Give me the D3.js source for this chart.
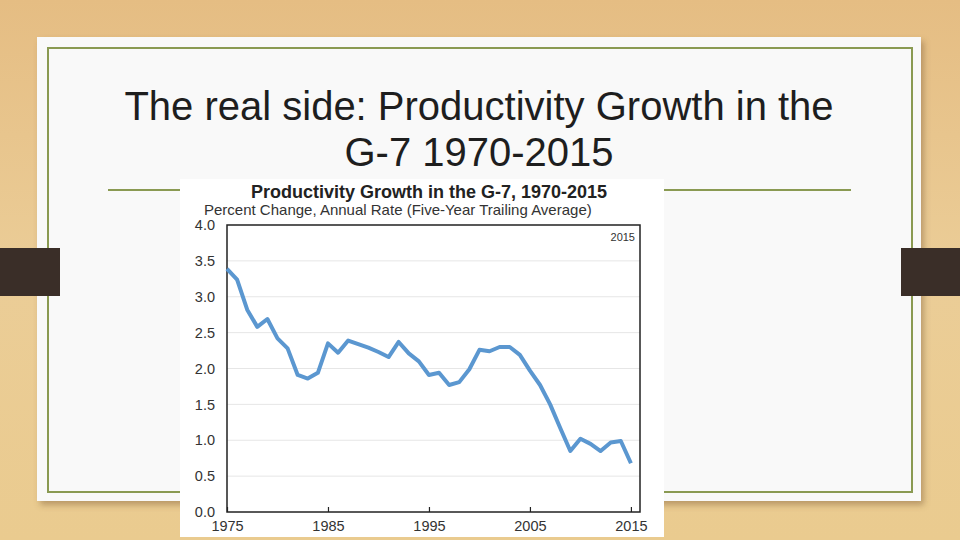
<!DOCTYPE html>
<html>
<head>
<meta charset="utf-8">
<script src="https://cdn.jsdelivr.net/npm/d3@7"></script>
<style>
  html, body { margin: 0; padding: 0; background: #e8c68e; }
  svg { display: block; }
</style>
</head>
<body>
<svg id="chart" width="960" height="540"></svg>
<script>
// ---- data ----
const years = d3.range(1975, 2016);
const productivity = [
  3.39, 3.24, 2.82, 2.58, 2.69, 2.42, 2.28, 1.91, 1.86, 1.94,
  2.35, 2.22, 2.39, 2.34, 2.29, 2.23, 2.16, 2.37, 2.21, 2.10,
  1.91, 1.94, 1.77, 1.81, 1.99, 2.26, 2.24, 2.30, 2.30, 2.19,
  1.97, 1.77, 1.50, 1.17, 0.85, 1.02, 0.95, 0.85, 0.97, 0.99,
  0.68
];
const yTicks = [0, 0.5, 1.0, 1.5, 2.0, 2.5, 3.0, 3.5, 4.0];
const xTickYears = [1975, 1985, 1995, 2005, 2015];
const slideTitle = ["The real side: Productivity Growth in the", "G-7 1970-2015"];
const chartTitle = "Productivity Growth in the G-7, 1970-2015";
const chartSubtitle = "Percent Change, Annual Rate (Five-Year Trailing Average)";
const cornerLabel = "2015";

const svg = d3.select("#chart");
const defs = svg.append("defs");

// wood background
const wood = defs.append("linearGradient").attr("id", "wood").attr("x1", 0).attr("y1", 0).attr("x2", 0).attr("y2", 1);
wood.append("stop").attr("offset", "0%").attr("stop-color", "#e5bd83");
wood.append("stop").attr("offset", "50%").attr("stop-color", "#ebcd97");
wood.append("stop").attr("offset", "100%").attr("stop-color", "#eacb8f");
svg.append("rect").attr("width", 960).attr("height", 540).attr("fill", "url(#wood)");

// shadow filter
const f = defs.append("filter").attr("id", "shadow").attr("x", "-5%").attr("y", "-5%").attr("width", "115%").attr("height", "120%");
f.append("feDropShadow").attr("dx", 3).attr("dy", 4).attr("stdDeviation", 3).attr("flood-color", "#7a5a30").attr("flood-opacity", 0.45);

// card
svg.append("rect").attr("x", 37).attr("y", 37).attr("width", 884).attr("height", 464)
  .attr("fill", "#f9f9f9").attr("filter", "url(#shadow)");
svg.append("rect").attr("x", 48).attr("y", 48).attr("width", 864).attr("height", 444)
  .attr("fill", "none").attr("stroke", "#8a9a52").attr("stroke-width", 2);

// dark tabs
svg.append("rect").attr("x", 0).attr("y", 248).attr("width", 60).attr("height", 48).attr("fill", "#3a2e28");
svg.append("rect").attr("x", 901).attr("y", 248).attr("width", 59).attr("height", 48).attr("fill", "#3a2e28");

// slide title
svg.append("g").selectAll("text").data(slideTitle).join("text")
  .attr("x", 479).attr("y", (d, i) => 120 + i * 46)
  .attr("text-anchor", "middle")
  .attr("font-family", "Liberation Sans, Arial, sans-serif")
  .attr("font-size", 40)
  .attr("fill", "#1e1e1e")
  .text(d => d);

// divider line
svg.append("line").attr("x1", 108).attr("x2", 851).attr("y1", 190).attr("y2", 190)
  .attr("stroke", "#8a9a52").attr("stroke-width", 2);

// chart image background
svg.append("rect").attr("x", 180).attr("y", 179).attr("width", 484).attr("height", 358).attr("fill", "#ffffff");

// scales
const margin = { left: 227, right: 640, top: 225, bottom: 512 };
const x = d3.scaleLinear().domain([1975, 2015.9]).range([margin.left, margin.right]);
const y = d3.scaleLinear().domain([0, 4]).range([margin.bottom, margin.top]);

// grid
svg.append("g").selectAll("line").data(yTicks.filter(t => t > 0 && t < 4)).join("line")
  .attr("x1", margin.left).attr("x2", margin.right)
  .attr("y1", d => y(d)).attr("y2", d => y(d))
  .attr("stroke", "#e6e6e6").attr("stroke-width", 1);

// y axis labels
const yAxis = d3.axisLeft(y).tickValues(yTicks).tickFormat(d3.format(".1f")).tickSize(0).tickPadding(12);
const gy = svg.append("g").attr("transform", `translate(${margin.left},0)`).call(yAxis);
gy.select(".domain").remove();
gy.selectAll("text").attr("font-family", "Liberation Sans, Arial, sans-serif").attr("font-size", 14.5).attr("fill", "#333");

// x axis
const xAxis = d3.axisBottom(x).tickValues(xTickYears).tickFormat(d3.format("d")).tickSize(-5).tickPadding(9);
const gx = svg.append("g").attr("transform", `translate(0,${margin.bottom})`).call(xAxis);
gx.select(".domain").remove();
gx.selectAll("line").attr("stroke", "#222").attr("stroke-width", 1.2);
gx.selectAll("text").attr("font-family", "Liberation Sans, Arial, sans-serif").attr("font-size", 14.5).attr("fill", "#333");

// frame
svg.append("rect").attr("x", margin.left).attr("y", margin.top)
  .attr("width", margin.right - margin.left).attr("height", margin.bottom - margin.top)
  .attr("fill", "none").attr("stroke", "#222").attr("stroke-width", 1.5);

// line
const line = d3.line().x((d, i) => x(years[i])).y(d => y(d));
svg.append("path").datum(productivity).attr("d", line)
  .attr("fill", "none").attr("stroke", "#5b97d0").attr("stroke-width", 4)
  .attr("stroke-linejoin", "round").attr("stroke-linecap", "butt");

// chart titles
svg.append("text").attr("x", 429).attr("y", 198).attr("text-anchor", "middle")
  .attr("font-family", "Liberation Sans, Arial, sans-serif").attr("font-weight", "bold")
  .attr("font-size", 18).attr("fill", "#222").text(chartTitle);
svg.append("text").attr("x", 204).attr("y", 215).attr("text-anchor", "start")
  .attr("font-family", "Liberation Sans, Arial, sans-serif")
  .attr("font-size", 15).attr("fill", "#333").text(chartSubtitle);
svg.append("text").attr("x", 635).attr("y", 241).attr("text-anchor", "end")
  .attr("font-family", "Liberation Sans, Arial, sans-serif")
  .attr("font-size", 11).attr("fill", "#333").text(cornerLabel);
</script>
</body>
</html>
